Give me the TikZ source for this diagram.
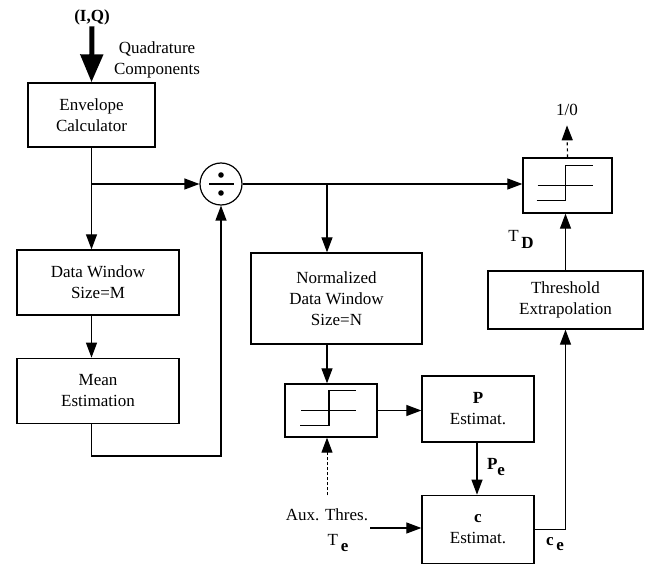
\documentclass[tikz,border=0pt]{standalone}
\usepackage{fontspec}
\setmainfont{Liberation Serif}
\usetikzlibrary{arrows.meta,positioning}

% step symbol drawn inside a comparator box
\newcommand\hyst[1]{%
 \draw ([xshift=-30pt]#1.center) -- ([xshift=25pt]#1.center);
 \draw ([xshift=-31pt,yshift=-15pt]#1.center) -- ++(29pt,0) -- ++(0,35pt) -- ++(27pt,0);}

\begin{document}
\begin{tikzpicture}[x=1pt,y=-1pt,>={Triangle[length=15pt,width=11pt]},line width=1.2pt,
 box/.style={draw,line width=1.3pt,align=center,inner sep=2pt,font=\fontsize{17}{21}\selectfont},
 lab/.style={align=center,inner sep=1pt,font=\fontsize{17}{21}\selectfont}]
\useasboundingbox (0,0) rectangle (646,564);
\node[box,minimum width=127pt,minimum height=64pt] (env) at (91.5,115) {Envelope\\Calculator};
\node[box,minimum width=162pt,minimum height=65pt] (dwm) at (98,282.5) {Data Window\\Size=M};
\node[box,minimum width=162pt,minimum height=65pt,below=42pt of dwm] (mean) {Mean\\Estimation};
\node[draw,circle,minimum size=42pt,inner sep=0pt] (div) at (221,184) {};
\node[box,minimum width=89pt,minimum height=55pt] (thr) at (567.5,185.5) {};
\node[box,minimum width=171pt,minimum height=91pt] (norm) at (336.5,298.5) {Normalized\\Data Window\\Size=N};
\node[box,minimum width=92pt,minimum height=53pt] (hys) at (331,410.5) {};
\node[box,minimum width=112pt,minimum height=66pt] (pest) at (478,409) {\textbf{P}\\Estimat.};
\node[box,minimum width=112pt,minimum height=68pt,below=52pt of pest] (cest) {\textbf{c}\\Estimat.};
\node[box,minimum width=155pt,minimum height=58pt] (tex) at (565.5,300) {Threshold\\Extrapolation};
\hyst{thr}
\hyst{hys}
% divider sign
\draw ([xshift=-12pt]div.center) -- ([xshift=13pt]div.center);
\fill ([yshift=9pt]div.center) circle (2.8pt);
\fill ([yshift=-9pt]div.center) circle (2.8pt);
% labels
\node[lab,font=\fontsize{17}{21}\selectfont\bfseries] (iq) at (92,17) {(I,Q)};
\node[lab] (quad) at (157,60) {Quadrature\\Components};
\node[lab] (out) at (567,110) {1/0};
\node[lab] (td) at (521,239) {T\,\raisebox{-7pt}{\textbf{D}}};
\node[lab] (pe) at (496,467) {\textbf{P}\raisebox{-6pt}{\textbf{e}}};
\node[lab] (ce) at (555,544) {\textbf{c}\,\raisebox{-5pt}{\textbf{e}}};
\node[lab] (aux) at (327,515) {Aux. Thres.};
\node[lab] (te) at (338,543) {T\,\raisebox{-6pt}{\textbf{e}}};
\coordinate (br1) at (env.south |- div.west);
\coordinate (br2) at (327,184);
\coordinate (auxin) at (370,528);
% connectors
\draw[line width=5pt,-{Triangle[length=28pt,width=22pt]}] (iq.south) -- (env.north);
\draw[->] (env.south) -- (env.south |- dwm.north);
\draw[->] (br1) -- (div.west);
\draw[->] (env.south |- dwm.south) -- (env.south |- mean.north);
\draw[->] (env.south |- mean.south) -- ++(0,32) -| (div.south);
\draw[->] (div.east) -- (div.east -| thr.west);
\draw[->] (br2) -- (br2 |- norm.north);
\draw[->] (br2 |- norm.south) -- (br2 |- hys.north);
\draw[->] (hys.east) -- (hys.east -| pest.west);
\draw[->] ([xshift=-1pt]pest.south) -- ([xshift=-1pt]cest.north);
\draw[->] (auxin) -- (auxin -| cest.west);
\draw[->,densely dashed,line width=1pt] ([yshift=12pt]aux.north) -- (aux.north |- hys.south);
\draw[->] (cest.east) -| (tex.south);
\draw[->] (tex.north) -- (tex.north |- thr.south);
\draw[->,dashed] (thr.north) -- ([yshift=-8pt]out.south);
\end{tikzpicture}
\end{document}
